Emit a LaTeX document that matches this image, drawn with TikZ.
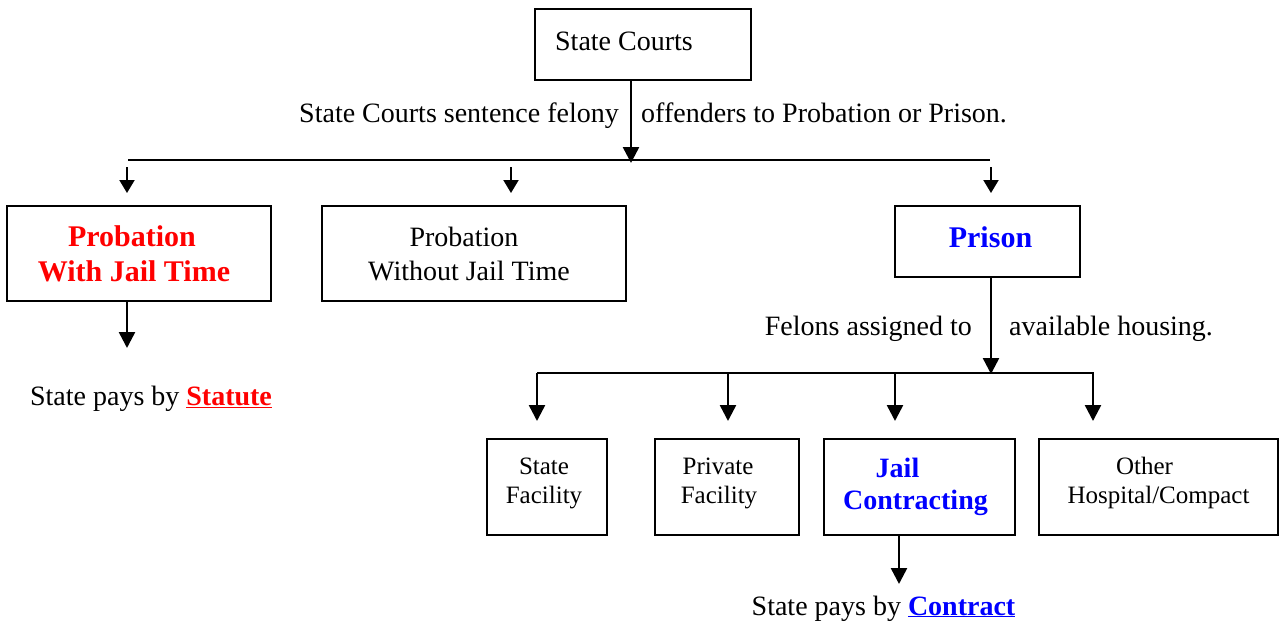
\documentclass[tikz,border=0pt]{standalone}
\usepackage{fontspec}
\setmainfont{Liberation Serif}
\usetikzlibrary{arrows.meta}
\definecolor{rred}{RGB}{255,0,0}
\definecolor{bblue}{RGB}{0,0,255}
\newcommand{\txtA}{\fontsize{28}{34}\selectfont}
\newcommand{\txtB}{\fontsize{30}{35}\selectfont\bfseries}
\newcommand{\txtC}{\fontsize{25}{29}\selectfont}
\newcommand{\txtD}{\fontsize{28}{32}\selectfont\bfseries}
\begin{document}
\begin{tikzpicture}[x=1pt,y=-1pt,
  box/.style={draw=black,line width=2pt,inner sep=0pt,align=center},
  lbl/.style={inner sep=0pt,font=\txtA},
  arr/.style={line width=2.5pt,-{Triangle[width=16pt,length=16pt]}},
  sarr/.style={line width=2pt,-{Triangle[width=15pt,length=13pt]}},
  bar/.style={line width=1.5pt}]
\useasboundingbox (0,0) rectangle (1279,624);
% boxes
\node[box,minimum width=216pt,minimum height=71pt,font=\txtA] (courts) at (643,44.5) {\raisebox{6pt}{State Courts}\hspace*{38pt}};
\node[box,minimum width=264pt,minimum height=95pt,font=\txtB,text=rred] (pwj) at (139,253.5) {Probation\hspace*{14pt}\\With Jail Time\hspace*{10pt}};
\node[box,minimum width=304pt,minimum height=95pt,font=\txtA] (pwo) at (474,253.5) {Probation\hspace*{20pt}\\Without Jail Time\hspace*{10pt}};
\node[box,minimum width=185pt,minimum height=71pt,font=\txtB,text=bblue] (prison) at (987.5,241.5) {\raisebox{9pt}{Prison}\hspace*{-6pt}};
\node[box,minimum width=120pt,minimum height=96pt,font=\txtC] (sf) at (547,487) {\kern-6pt State\\\kern-6pt Facility\\[-16pt]\mbox{}};
\node[box,minimum width=144pt,minimum height=96pt,font=\txtC] (pf) at (727,487) {\kern-18pt Private\\\kern-16pt Facility\\[-16pt]\mbox{}};
\node[box,minimum width=191pt,minimum height=96pt,font=\txtD,text=bblue] (jc) at (919.5,487) {Jail\hspace*{44pt}\\Contracting\hspace*{8pt}};
\node[box,minimum width=239pt,minimum height=96pt,font=\txtC] (oth) at (1158.5,487) {Other\hspace*{28pt}\\Hospital/Compact\\[-16pt]\mbox{}};
% labels
\node[lbl,anchor=base east] (l1) at (619,122) {State Courts sentence felony};
\node[lbl,anchor=base west] (l2) at (641,122) {offenders to Probation or Prison.};
\node[lbl,anchor=base east] (l3) at (972,335) {Felons assigned to};
\node[lbl,anchor=base west] (l4) at (1009,335) {available housing.};
\node[lbl,anchor=base] (l5) at (151,405) {State pays by \textcolor{rred}{\bfseries\underline{Statute}}};
\node[lbl,anchor=base] (l6) at (883.5,615) {State pays by \textcolor{bblue}{\bfseries\underline{Contract}}};
% top bar
\coordinate (b1L) at (128,160);
\coordinate (b1R) at (990,160);
\coordinate (c1) at (631,163);
\draw[bar] (b1L) -- (b1R);
\draw[arr] (c1 |- courts.south) -- (c1);
\coordinate (t1s) at (127,167); \coordinate (t1e) at (127,193);
\coordinate (t2s) at (511,167); \coordinate (t2e) at (511,193);
\coordinate (t3s) at (991,167); \coordinate (t3e) at (991,193);
\draw[sarr] (t1s) -- (t1e);
\draw[sarr] (t2s) -- (t2e);
\draw[sarr] (t3s) -- (t3e);
% statute arrow
\coordinate (s1) at (127,348);
\draw[arr] (s1 |- pwj.south) -- (s1);
% prison
\coordinate (p1) at (991,374);
\draw[arr] (p1 |- prison.south) -- (p1);
\coordinate (b2L) at (537,373);
\coordinate (b2R) at (1094,373);
\draw[bar] (b2L) -- (b2R);
\coordinate (u1s) at (537,373); \coordinate (u1e) at (537,421);
\coordinate (u2s) at (728,373); \coordinate (u2e) at (728,421);
\coordinate (u3s) at (895,373); \coordinate (u3e) at (895,421);
\coordinate (u4s) at (1093,373); \coordinate (u4e) at (1093,421);
\draw[arr] (u1s) -- (u1e);
\draw[arr] (u2s) -- (u2e);
\draw[arr] (u3s) -- (u3e);
\draw[arr] (u4s) -- (u4e);
% contract arrow
\coordinate (j1) at (899,584);
\draw[arr] (j1 |- jc.south) -- (j1);
\end{tikzpicture}
\end{document}
